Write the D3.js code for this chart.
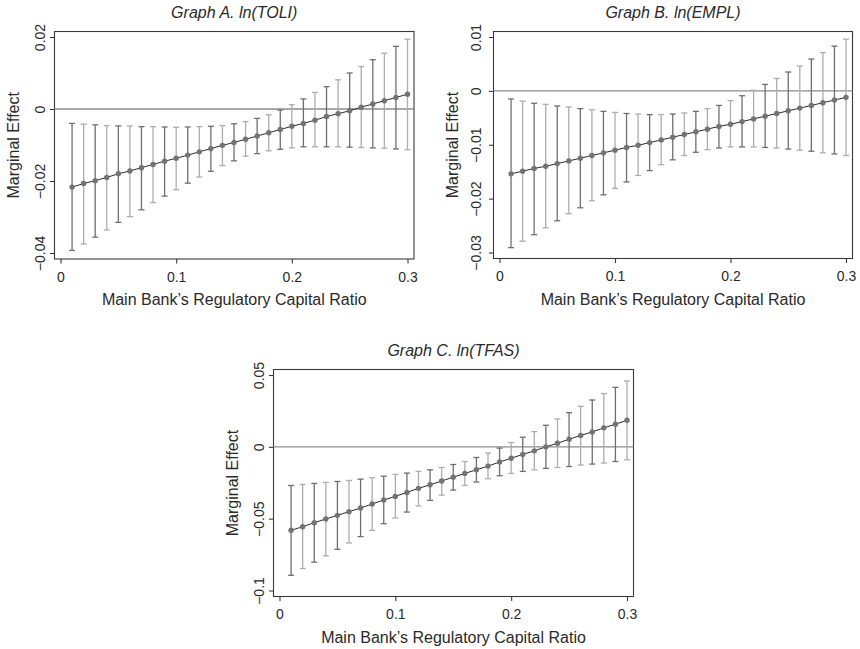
<!DOCTYPE html>
<html>
<head>
<meta charset="utf-8">
<script src="https://cdn.jsdelivr.net/npm/d3@7.9.0/dist/d3.min.js"></script>
<style>
  body { margin: 0; background: #fff; }
  svg { display: block; font-family: "Liberation Sans", Arial, Helvetica, sans-serif; }
</style>
</head>
<body>
<div id="chart"></div>
<script>
// Capital ratio values on the x axis (shared by all graphs)
const ratios = [0.01, 0.02, 0.03, 0.04, 0.05, 0.06, 0.07, 0.08, 0.09, 0.10,
  0.11, 0.12, 0.13, 0.14, 0.15, 0.16, 0.17, 0.18, 0.19, 0.20,
  0.21, 0.22, 0.23, 0.24, 0.25, 0.26, 0.27, 0.28, 0.29, 0.30];
const xTicks = [0, 0.1, 0.2, 0.3];

// Graph A. ln(TOLI)
const toliEffect = [-0.0217, -0.0207, -0.0199, -0.0190, -0.0180, -0.0172, -0.0163, -0.0154, -0.0145, -0.0137,
  -0.0128, -0.0119, -0.0110, -0.0101, -0.0093, -0.0084, -0.0075, -0.0066, -0.0057, -0.0048,
  -0.0040, -0.0031, -0.0021, -0.0013, -0.0005, 0.0005, 0.0014, 0.0023, 0.0032, 0.0041];
const toliUpper = [-0.0040, -0.0042, -0.0044, -0.0046, -0.0047, -0.0047, -0.0049, -0.0049, -0.0050, -0.0051,
  -0.0050, -0.0049, -0.0048, -0.0046, -0.0041, -0.0035, -0.0026, -0.0016, -0.0003, 0.0012,
  0.0028, 0.0046, 0.0062, 0.0081, 0.0100, 0.0118, 0.0137, 0.0155, 0.0174, 0.0194];
const toliLower = [-0.0393, -0.0375, -0.0356, -0.0336, -0.0315, -0.0299, -0.0280, -0.0260, -0.0242, -0.0224,
  -0.0206, -0.0189, -0.0173, -0.0157, -0.0144, -0.0131, -0.0124, -0.0116, -0.0112, -0.0108,
  -0.0105, -0.0105, -0.0105, -0.0105, -0.0106, -0.0107, -0.0108, -0.0109, -0.0111, -0.0113];
const toliTicks = [-0.04, -0.02, 0, 0.02];

// Graph B. ln(EMPL)
const emplEffect = [-0.0154, -0.0149, -0.0144, -0.0140, -0.0135, -0.0130, -0.0125, -0.0120, -0.0115, -0.0110,
  -0.0105, -0.0101, -0.0096, -0.0091, -0.0086, -0.0081, -0.0076, -0.0071, -0.0066, -0.0062,
  -0.0057, -0.0052, -0.0047, -0.0042, -0.0037, -0.0032, -0.0027, -0.0022, -0.0017, -0.0012];
const emplUpper = [-0.0015, -0.0019, -0.0023, -0.0025, -0.0028, -0.0030, -0.0033, -0.0035, -0.0038, -0.0040,
  -0.0042, -0.0043, -0.0044, -0.0044, -0.0043, -0.0041, -0.0038, -0.0033, -0.0027, -0.0018,
  -0.0009, 0.0001, 0.0012, 0.0023, 0.0035, 0.0046, 0.0059, 0.0071, 0.0083, 0.0096];
const emplLower = [-0.0291, -0.0279, -0.0267, -0.0254, -0.0241, -0.0228, -0.0217, -0.0204, -0.0193, -0.0181,
  -0.0169, -0.0157, -0.0148, -0.0137, -0.0128, -0.0120, -0.0114, -0.0109, -0.0106, -0.0104,
  -0.0104, -0.0104, -0.0105, -0.0106, -0.0108, -0.0110, -0.0112, -0.0115, -0.0117, -0.0120];
const emplTicks = [-0.03, -0.02, -0.01, 0, 0.01];

// Graph C. ln(TFAS)
const tfasEffect = [-0.0581, -0.0556, -0.0528, -0.0502, -0.0477, -0.0451, -0.0426, -0.0398, -0.0370, -0.0345,
  -0.0317, -0.0289, -0.0264, -0.0238, -0.0211, -0.0185, -0.0160, -0.0134, -0.0106, -0.0079,
  -0.0053, -0.0028, 0.0000, 0.0025, 0.0053, 0.0079, 0.0104, 0.0132, 0.0157, 0.0185];
const tfasUpper = [-0.0269, -0.0262, -0.0255, -0.0248, -0.0241, -0.0234, -0.0225, -0.0215, -0.0204, -0.0192,
  -0.0183, -0.0171, -0.0160, -0.0144, -0.0123, -0.0102, -0.0074, -0.0044, -0.0009, 0.0030,
  0.0067, 0.0106, 0.0150, 0.0194, 0.0238, 0.0282, 0.0326, 0.0370, 0.0414, 0.0458];
const tfasLower = [-0.0894, -0.0847, -0.0803, -0.0759, -0.0713, -0.0669, -0.0625, -0.0581, -0.0535, -0.0495,
  -0.0454, -0.0412, -0.0373, -0.0336, -0.0301, -0.0269, -0.0245, -0.0222, -0.0201, -0.0185,
  -0.0171, -0.0160, -0.0150, -0.0144, -0.0137, -0.0127, -0.0120, -0.0113, -0.0102, -0.0090];
const tfasTicks = [-0.1, -0.05, 0, 0.05];

const width = 860;
const height = 649;

const svg = d3.select('#chart')
  .append('svg')
  .attr('width', width)
  .attr('height', height);

// format like Stata: 0, 0.1, -0.02 with a real minus sign
const fmt = (d) => {
  if (d === 0) return '0';
  const s = String(+d.toFixed(4));
  return s.replace('-', '\u2212');
};

function drawPanel(opts) {
  const { title, effect, upper, lower, yTicks, yDomain, box, labelGap } = opts;
  const g = svg.append('g');

  const xScale = d3.scaleLinear().domain([0, 0.3])
    .range([box.left + 6, box.right - 6.5]);
  const yScale = d3.scaleLinear().domain(yDomain)
    .range([box.bottom - 6, box.top + 5.5]);

  // frame around plot region
  g.append('rect')
    .attr('x', box.left)
    .attr('y', box.top)
    .attr('width', box.right - box.left)
    .attr('height', box.bottom - box.top)
    .attr('fill', 'none')
    .attr('stroke', '#3a3a3a')
    .attr('stroke-width', 1.1);

  // zero reference line
  g.append('line')
    .attr('x1', box.left)
    .attr('x2', box.right)
    .attr('y1', yScale(0))
    .attr('y2', yScale(0))
    .attr('stroke', '#8c8c8c')
    .attr('stroke-width', 1.3);

  const rows = ratios.map((r, i) => ({ r, est: effect[i], hi: upper[i], lo: lower[i], i }));

  // confidence intervals, alternating shade
  const bars = g.append('g').selectAll('g').data(rows).join('g')
    .attr('stroke', (d) => d.i % 2 === 0 ? '#6f6f6f' : '#adadad')
    .attr('stroke-width', 1.3);
  bars.append('line')
    .attr('x1', (d) => xScale(d.r)).attr('x2', (d) => xScale(d.r))
    .attr('y1', (d) => yScale(d.hi)).attr('y2', (d) => yScale(d.lo));
  bars.append('line')
    .attr('x1', (d) => xScale(d.r) - 3).attr('x2', (d) => xScale(d.r) + 3)
    .attr('y1', (d) => yScale(d.hi)).attr('y2', (d) => yScale(d.hi));
  bars.append('line')
    .attr('x1', (d) => xScale(d.r) - 3).attr('x2', (d) => xScale(d.r) + 3)
    .attr('y1', (d) => yScale(d.lo)).attr('y2', (d) => yScale(d.lo));

  // connected point estimates
  const line = d3.line().x((d) => xScale(d.r)).y((d) => yScale(d.est));
  g.append('path')
    .datum(rows)
    .attr('d', line)
    .attr('fill', 'none')
    .attr('stroke', '#2b2b2b')
    .attr('stroke-width', 1);

  g.append('g').selectAll('circle').data(rows).join('circle')
    .attr('cx', (d) => xScale(d.r))
    .attr('cy', (d) => yScale(d.est))
    .attr('r', 2.7)
    .attr('fill', '#737373');

  // axes
  const xAxis = g.append('g')
    .attr('transform', `translate(0, ${box.bottom})`)
    .call(d3.axisBottom(xScale).tickValues(xTicks).tickFormat(fmt).tickSize(4.5).tickSizeOuter(0));
  xAxis.select('.domain').remove();
  xAxis.selectAll('.tick line').attr('stroke', '#3a3a3a').attr('stroke-width', 1.1);
  xAxis.selectAll('.tick text')
    .attr('y', 22.5)
    .attr('dy', 0)
    .attr('fill', '#2a2a2a')
    .style('font-size', '14px');

  const yAxis = g.append('g')
    .attr('transform', `translate(${box.left}, 0)`)
    .call(d3.axisLeft(yScale).tickValues(yTicks).tickFormat(fmt).tickSize(4.5).tickSizeOuter(0));
  yAxis.select('.domain').remove();
  yAxis.selectAll('.tick line').attr('stroke', '#3a3a3a').attr('stroke-width', 1.1);
  yAxis.selectAll('.tick text')
    .attr('transform', 'rotate(-90)')
    .attr('x', 0)
    .attr('y', -labelGap)
    .attr('dy', 0)
    .attr('text-anchor', 'middle')
    .attr('fill', '#2a2a2a')
    .style('font-size', '14px');

  const cx = (box.left + box.right) / 2;
  const cy = (box.top + box.bottom) / 2;

  g.append('text')
    .attr('x', cx)
    .attr('y', box.top - 13.5)
    .attr('text-anchor', 'middle')
    .attr('font-style', 'italic')
    .attr('fill', '#2a2a2a')
    .style('font-size', '16px')
    .text(title);

  g.append('text')
    .attr('x', cx)
    .attr('y', box.bottom + 46)
    .attr('text-anchor', 'middle')
    .attr('fill', '#2a2a2a')
    .style('font-size', '16px')
    .text('Main Bank\u2019s Regulatory Capital Ratio');

  g.append('text')
    .attr('transform', `translate(${box.left - 35.5}, ${cy}) rotate(-90)`)
    .attr('text-anchor', 'middle')
    .attr('fill', '#2a2a2a')
    .style('font-size', '16px')
    .text('Marginal Effect');
}

drawPanel({
  title: 'Graph A. ln(TOLI)',
  effect: toliEffect, upper: toliUpper, lower: toliLower,
  yTicks: toliTicks, yDomain: [-0.04, 0.02],
  box: { left: 54.5, right: 414, top: 31.5, bottom: 259 },
  labelGap: 10
});

drawPanel({
  title: 'Graph B. ln(EMPL)',
  effect: emplEffect, upper: emplUpper, lower: emplLower,
  yTicks: emplTicks, yDomain: [-0.03, 0.01],
  box: { left: 493.5, right: 852.5, top: 31.5, bottom: 258.5 },
  labelGap: 13
});

drawPanel({
  title: 'Graph C. ln(TFAS)',
  effect: tfasEffect, upper: tfasUpper, lower: tfasLower,
  yTicks: tfasTicks, yDomain: [-0.1, 0.05],
  box: { left: 273.5, right: 633.5, top: 369.5, bottom: 596.5 },
  labelGap: 10
});
</script>
</body>
</html>
